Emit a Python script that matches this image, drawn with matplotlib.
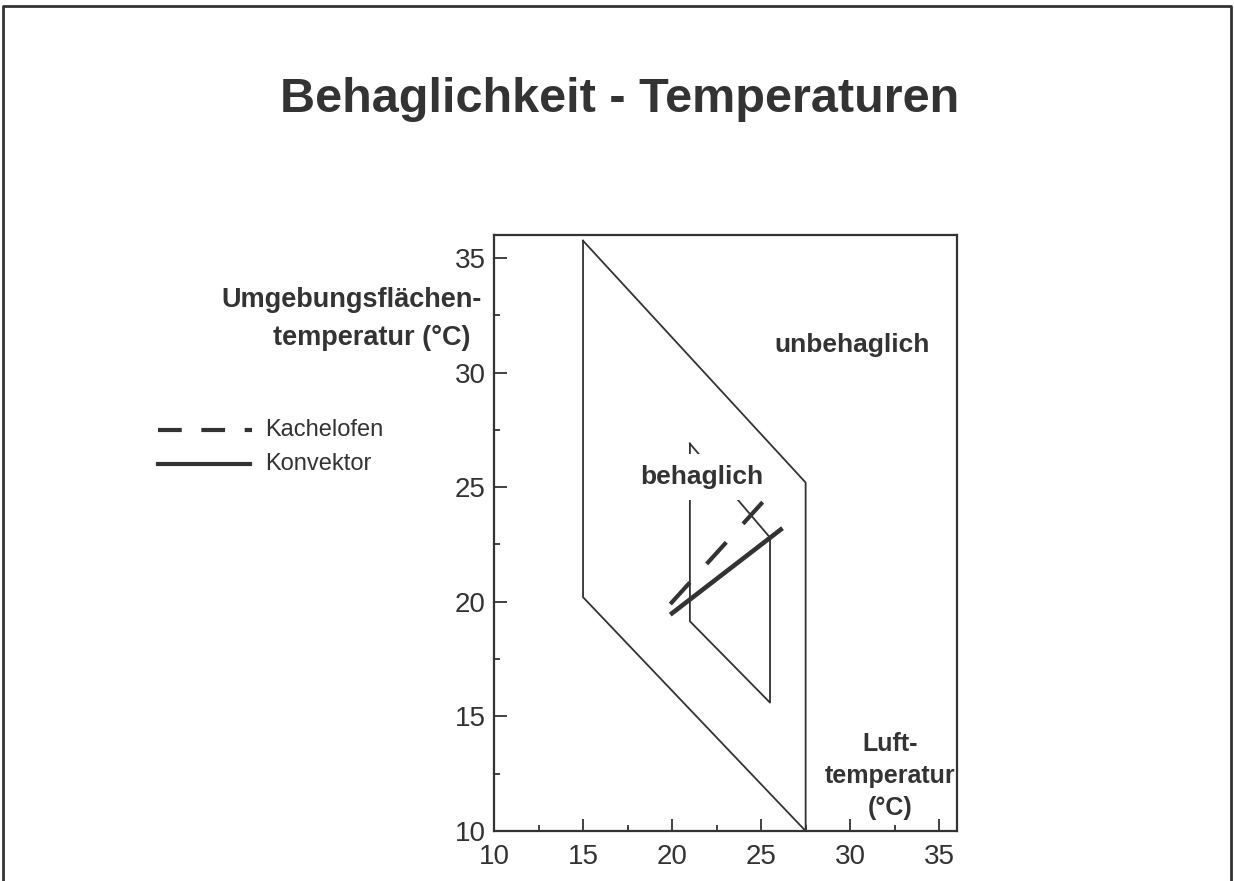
import matplotlib
matplotlib.use('Agg')
import matplotlib.pyplot as plt
from matplotlib.lines import Line2D
from matplotlib.ticker import MultipleLocator

# comfort zones (air temperature x, surrounding surface temperature y)
outer_x = [15, 15, 27.5, 27.5, 15]
outer_y = [35.75, 20.2, 10, 25.2, 35.75]
inner_x = [21, 21, 25.5, 25.5, 21]
inner_y = [26.9, 19.15, 15.6, 22.8, 26.9]

# heating types
kachelofen_x = [19.9, 25.5]
kachelofen_y = [19.9, 24.7]
konvektor_x = [20.0, 26.1]
konvektor_y = [19.5, 23.15]

ticks = [10, 15, 20, 25, 30, 35]

dark = '#333333'
plt.rcParams['font.family'] = ['Liberation Sans', 'DejaVu Sans']
plt.rcParams['text.color'] = dark

fig = plt.figure(figsize=(12.34, 8.81), dpi=100)
W, H = 1234, 881

# outer frame (open at the bottom)
fig.add_artist(Line2D([3 / W, 3 / W, 1231 / W, 1231 / W], [0, 1 - 6 / H, 1 - 6 / H, 0],
                      transform=fig.transFigure, color=dark, lw=2))

ax = fig.add_axes([494 / W, 1 - 831 / H, 463 / W, 596 / H])
ax.set_xlim(10, 36)
ax.set_ylim(10, 36)
ax.set_xticks(ticks)
ax.set_yticks(ticks)
ax.xaxis.set_minor_locator(MultipleLocator(2.5))
ax.yaxis.set_minor_locator(MultipleLocator(2.5))
ax.tick_params(which='major', direction='in', length=9, width=1.3, color=dark,
               labelsize=20, labelcolor=dark, pad=6)
ax.tick_params(which='minor', direction='in', length=4.5, width=1.3, color=dark)
ax.tick_params(axis='x', pad=9)
for s in ax.spines.values():
    s.set_color(dark)
    s.set_linewidth(1.6)

ax.plot(outer_x, outer_y, color=dark, lw=1.3, zorder=2)
ax.plot(inner_x, inner_y, color=dark, lw=1.3, zorder=2)
ax.plot(kachelofen_x, kachelofen_y, color=dark, lw=3, dashes=(7, 6), zorder=4)
ax.plot(konvektor_x, konvektor_y, color=dark, lw=3.3, zorder=4)

ax.text(21.66, 25.45, 'behaglich', fontsize=19, fontweight='bold', ha='center', va='center',
        zorder=3, bbox=dict(facecolor='white', edgecolor='none', pad=8))
ax.text(30.1, 31.2, 'unbehaglich', fontsize=19, fontweight='bold', ha='center', va='center')

fig.text(890 / W, 1 - 776 / H, 'Luft-\ntemperatur\n(°C)', fontsize=18, fontweight='bold',
         ha='center', va='center', linespacing=1.4)
fig.text(352 / W, 1 - 300 / H, 'Umgebungsflächen-', fontsize=19.5, fontweight='bold',
         ha='center', va='center')
fig.text(372 / W, 1 - 338 / H, 'temperatur (°C)', fontsize=19.5, fontweight='bold',
         ha='center', va='center')

fig.text(620 / W, 1 - 100 / H, 'Behaglichkeit - Temperaturen', fontsize=35,
         fontweight='bold', ha='center', va='center')

# legend
fig.add_artist(Line2D([158 / W, 252 / W], [1 - 430 / H, 1 - 430 / H], transform=fig.transFigure,
                      color=dark, lw=3, dashes=(5.7, 4.7)))
fig.add_artist(Line2D([158 / W, 250 / W], [1 - 464 / H, 1 - 464 / H], transform=fig.transFigure,
                      color=dark, lw=3))
fig.text(265 / W, 1 - 430 / H, 'Kachelofen', fontsize=17, ha='left', va='center')
fig.text(265 / W, 1 - 464 / H, 'Konvektor', fontsize=17, ha='left', va='center')

fig.savefig('out.png', dpi=100)
